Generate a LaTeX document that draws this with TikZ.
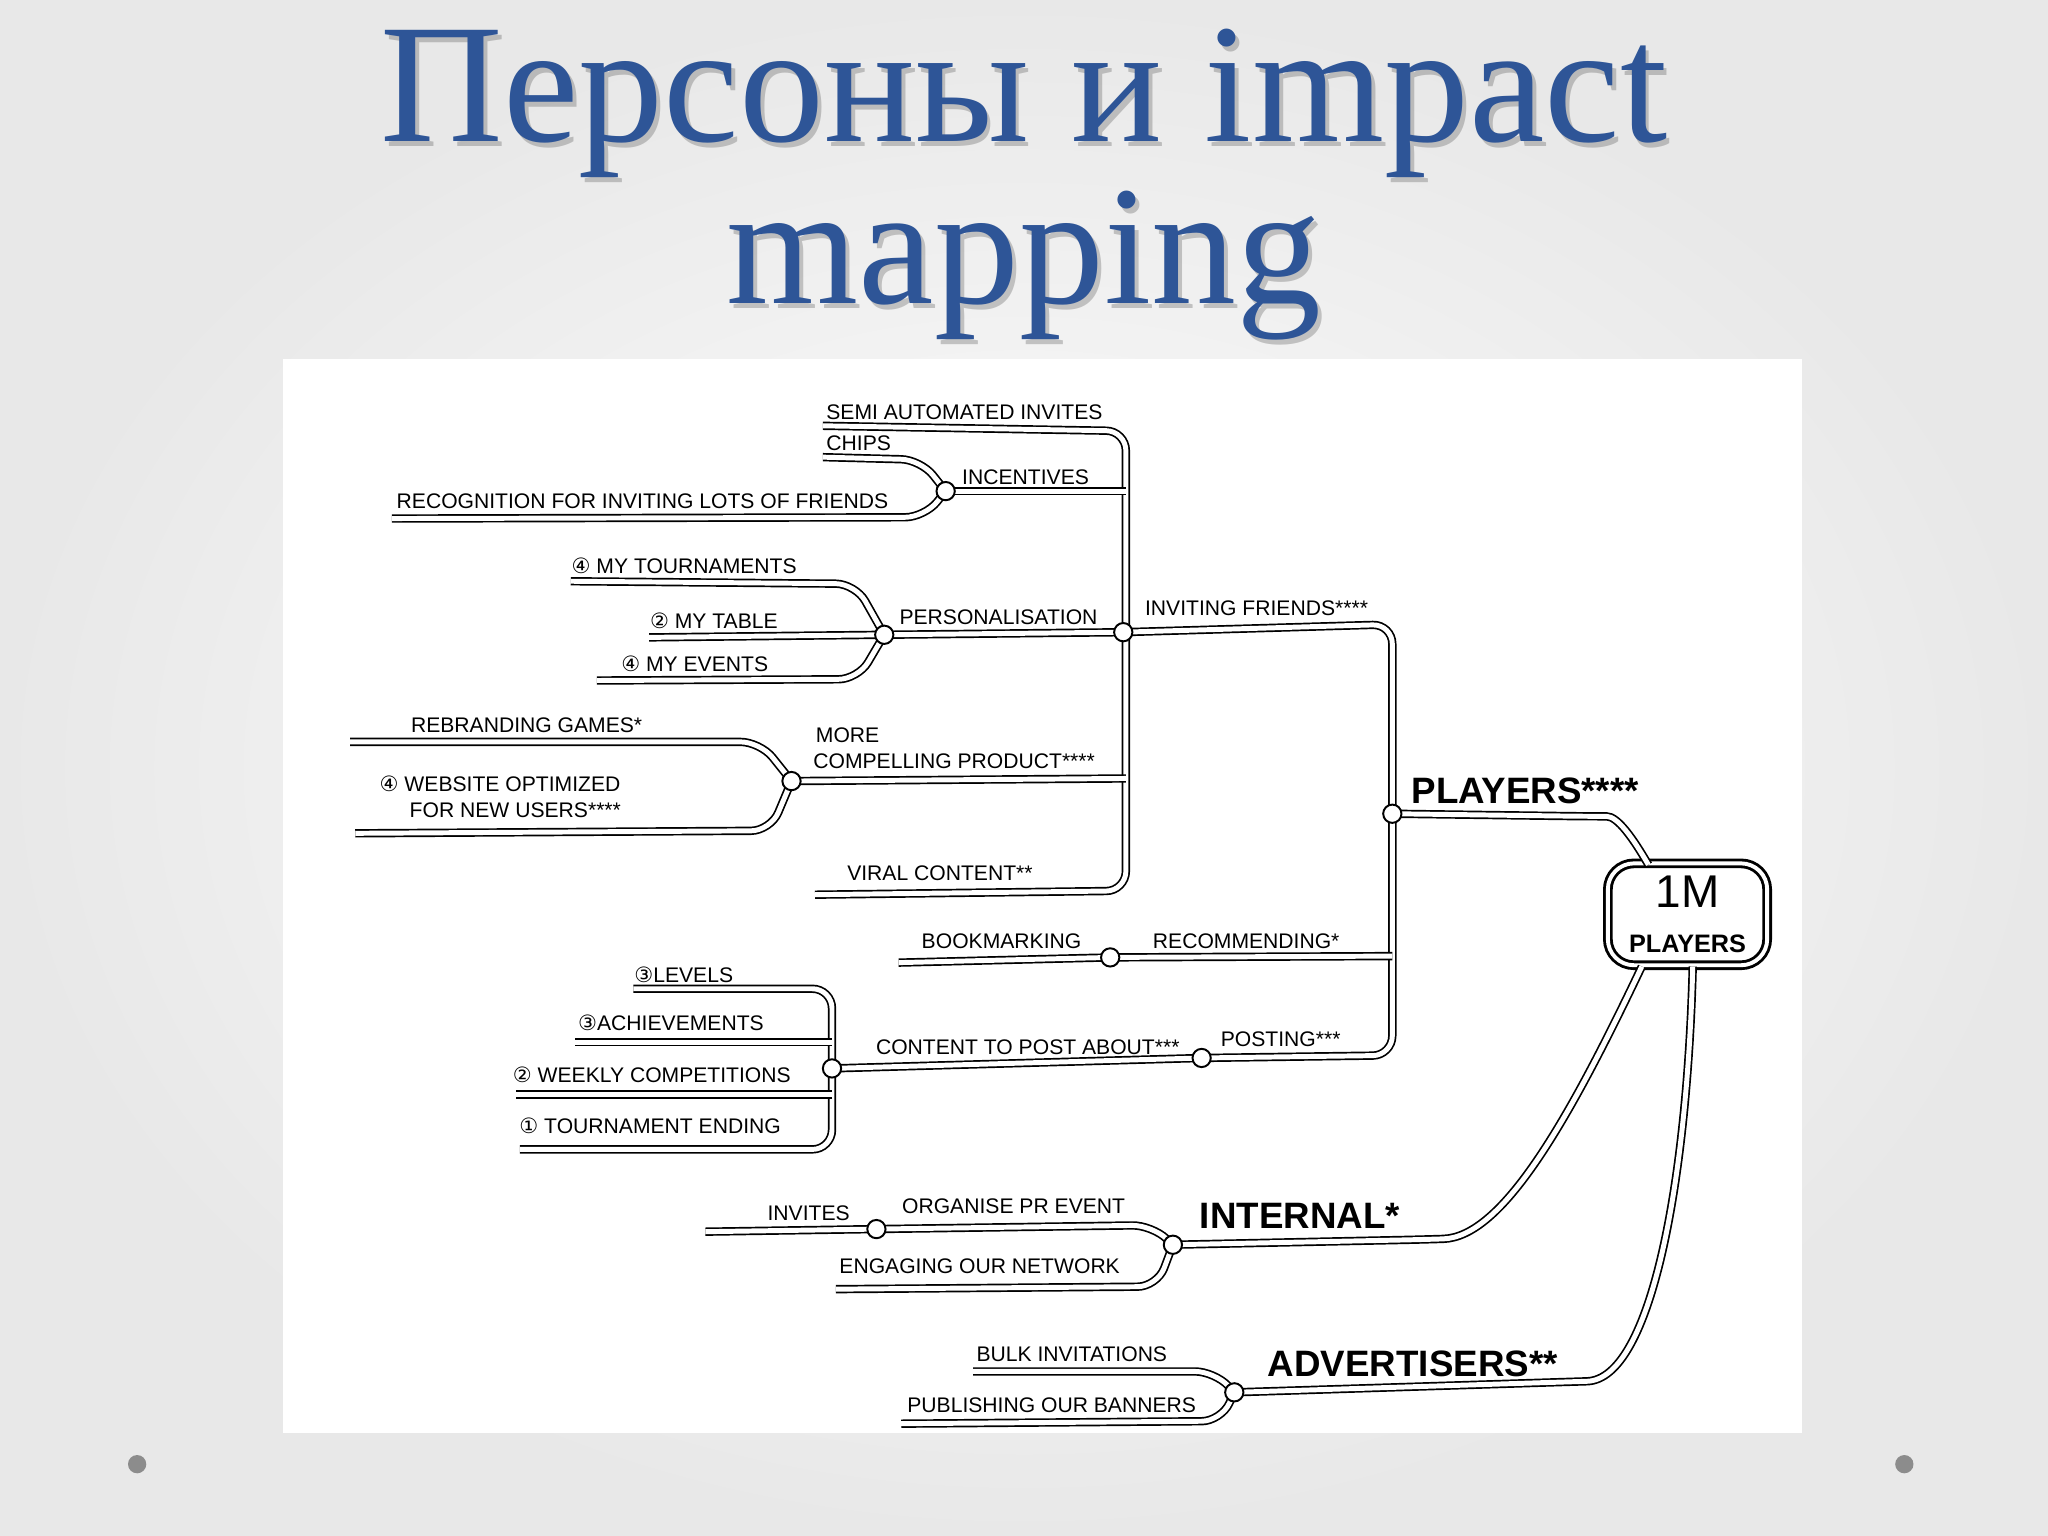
\documentclass[tikz,border=0pt]{standalone}
\usepackage{fontspec}
\newfontfamily\titlefont{Liberation Serif}
\newfontfamily\hand{Liberation Sans}
\newfontfamily\sym{DejaVu Sans}
\definecolor{titleblue}{RGB}{46,85,151}
\tikzset{
  dl/.style={double=white, draw=black, double distance=0.38mm, line width=0.13mm, rounded corners=1.5mm},
  hub/.style={circle, draw, fill=white, inner sep=0, minimum size=1.4mm, line width=0.15mm},
  lab/.style={anchor=south west, inner sep=0, font=\hand\fontsize{4.6}{5.4}\selectfont},
  biglab/.style={anchor=south west, inner sep=0, font=\hand\bfseries\fontsize{8}{9}\selectfont},
  ttl/.style={anchor=base, inner sep=0, text=titleblue, font=\titlefont\fontsize{37}{40}\selectfont},
  shd/.style={anchor=base, inner sep=0, text=black, opacity=0.2, font=\titlefont\fontsize{37}{40}\selectfont}
}
\begin{document}
\begin{tikzpicture}[x=0.1mm,y=-0.1mm]
\shade[inner color=white, outer color=black!9] (0,0) rectangle (1568,1176);
\fill[black!45] (105,1121) circle (7) (1458,1121) circle (7);
% title
\node[shd] (t1s) at (787,112) {Персоны и impact};
\node[shd] (t2s) at (787,236) {mapping};
\node[ttl] (t1) at (784,108) {Персоны и impact};
\node[ttl] (t2) at (784,232) {mapping};
% picture area
\fill[white] (217,275) rectangle (1380,1097);
% coordinates
\coordinate (inc) at (724,376);
\coordinate (per) at (677,486);
\coordinate (inv) at (860,484);
\coordinate (mcp) at (606,598);
\coordinate (ply) at (1066,623);
\coordinate (bkm) at (850,733);
\coordinate (pst) at (920,810);
\coordinate (ctp) at (637,818);
\coordinate (inl) at (898,953);
\coordinate (ivt) at (671,941);
\coordinate (adv) at (945,1066);
\coordinate (gtop) at (1262,662);
\coordinate (gbl) at (1257,740);
\coordinate (gbr) at (1296,740);
% goal box
\node[draw, line width=0.22mm, double=white, double distance=0.3mm, rounded corners=2mm, minimum width=12.2mm, minimum height=7.8mm, align=center, inner sep=0] (goal) at (1292,700) {{\hand\fontsize{10}{10}\selectfont 1M}\\[-2pt]{\hand\bfseries\fontsize{5.5}{6}\selectfont PLAYERS}};
% trunk A
\draw[dl] (630,326) -- (862,330) -- (862,682) -- (624,685);
\draw[dl] (862,376) -- (inc);
\draw[dl] (862,484) -- (per);
\draw[dl] (862,596) -- (mcp);
\draw[dl] (inc) -- (705,352) -- (630,350);
\draw[dl] (inc) -- (708,396) -- (300,397);
\draw[dl] (per) -- (655,447) -- (437,445);
\draw[dl] (per) -- (497,488);
\draw[dl] (per) -- (657,520) -- (457,521);
\draw[dl] (mcp) -- (582,568) -- (268,568);
\draw[dl] (mcp) -- (590,636) -- (272,638);
% trunk B
\draw[dl] (inv) -- (1066,478) -- (1066,808) -- (pst) -- (ctp);
\draw[dl] (1066,732) -- (bkm) -- (688,737);
\draw[dl] (ply) -- (1215,625) to[out=0,in=120] (gtop);
% content list
\draw[dl] (485,757) -- (637,757) -- (637,880) -- (398,880);
\draw[dl] (637,798) -- (440,798);
\draw[dl] (637,838) -- (395,838);
% internal
\draw[dl] (gbl) .. controls (1200,860) and (1150,947) .. (1090,949) -- (inl);
\draw[dl] (inl) -- (882,938) -- (ivt) -- (540,943);
\draw[dl] (inl) -- (886,985) -- (640,987);
% advertisers
\draw[dl] (gbr) .. controls (1292,900) and (1265,1056) .. (1200,1058) -- (adv);
\draw[dl] (adv) -- (930,1050) -- (745,1050);
\draw[dl] (adv) -- (935,1088) -- (690,1090);
% hubs
\foreach \h in {inc,per,inv,mcp,ply,bkm,pst,ctp,inl,ivt,adv} \node[hub] (h\h) at (\h) {};
% labels
\node[lab] (l1) at (632,322) {SEMI AUTOMATED INVITES};
\node[lab] (l2) at (632,346) {CHIPS};
\node[lab] (l3) at (736,372) {INCENTIVES};
\node[lab] (l4) at (303,390) {RECOGNITION FOR INVITING LOTS OF FRIENDS};
\node[lab] (l5) at (437,440) {{\sym ④} MY TOURNAMENTS};
\node[lab] (l6) at (497,482) {{\sym ②} MY TABLE};
\node[lab] (l7) at (475,515) {{\sym ④} MY EVENTS};
\node[lab] (l8) at (688,479) {PERSONALISATION};
\node[lab] (l9) at (876,472) {INVITING FRIENDS****};
\node[lab] (l10) at (314,562) {REBRANDING GAMES*};
\node[lab] (l11) at (624,569) {MORE};
\node[lab] (l12) at (622,589) {COMPELLING PRODUCT****};
\node[lab] (l13) at (290,607) {{\sym ④} WEBSITE OPTIMIZED};
\node[lab] (l14) at (313,627) {FOR NEW USERS****};
\node[lab] (l15) at (648,675) {VIRAL CONTENT**};
\node[biglab] (l16) at (1080,616) {PLAYERS****};
\node[lab] (l17) at (705,727) {BOOKMARKING};
\node[lab] (l18) at (882,727) {RECOMMENDING*};
\node[lab] (l19) at (485,753) {{\sym ③}LEVELS};
\node[lab] (l20) at (442,790) {{\sym ③}ACHIEVEMENTS};
\node[lab] (l21) at (392,830) {{\sym ②} WEEKLY COMPETITIONS};
\node[lab] (l22) at (397,869) {{\sym ①} TOURNAMENT ENDING};
\node[lab] (l23) at (670,808) {CONTENT TO POST ABOUT***};
\node[lab] (l24) at (934,802) {POSTING***};
\node[lab] (l25) at (587,935) {INVITES};
\node[lab] (l26) at (690,930) {ORGANISE PR EVENT};
\node[lab] (l27) at (642,976) {ENGAGING OUR NETWORK};
\node[biglab] (l28) at (918,941) {INTERNAL*};
\node[lab] (l29) at (747,1043) {BULK INVITATIONS};
\node[lab] (l30) at (694,1082) {PUBLISHING OUR BANNERS};
\node[biglab] (l31) at (970,1055) {ADVERTISERS**};
\end{tikzpicture}
\end{document}
